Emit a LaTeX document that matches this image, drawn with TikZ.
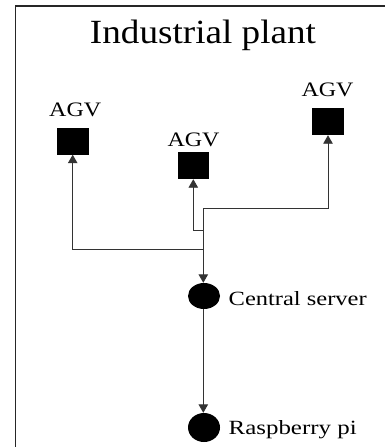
\documentclass[tikz,border=0pt]{standalone}
\usepackage{fontspec}
\setmainfont{Liberation Serif}
\usetikzlibrary{arrows.meta,shapes.geometric}
\newcommand\mylblfont{\fontsize{20}{24}\selectfont}
\begin{document}
\begin{tikzpicture}[x=1pt,y=-1pt,
  frame/.style={line width=1.2pt,draw=black!85},
  agvbox/.style={fill=black,draw=none,minimum width=32pt,minimum height=27pt,inner sep=0pt},
  dot/.style={ellipse,fill=black,draw=none,minimum width=32pt,inner sep=0pt},
  lbl/.style={inner sep=0pt,font=\mylblfont},
  conn/.style={line width=0.9pt,draw=black!80},
  arr/.style={conn,-{Triangle[width=9.5pt,length=8.5pt]}}]
\useasboundingbox (0,0) rectangle (385,447);
% frame
\coordinate (fTL) at (15.5,6);
\coordinate (fTR) at (385,6);
\coordinate (fBL) at (15.5,447);
\draw[frame] (fTR) -- (fTL) -- (fBL);
% title
\node[inner sep=0pt,anchor=base,font=\fontsize{34}{40}\selectfont] (title) at (203,43.3) {\resizebox{226pt}{23.5pt}{Industrial plant}};
% AGVs
\node[agvbox] (agvL) at (73.3,141) {};
\node[agvbox,minimum width=31pt] (agvM) at (193.5,165.5) {};
\node[agvbox] (agvR) at (328,121.5) {};
\node[lbl,anchor=base] (lL) at (75.2,116.7) {\resizebox{52pt}{13.6pt}{AGV}};
\node[lbl,anchor=base] (lM) at (193.5,146.7) {\resizebox{52pt}{13.6pt}{AGV}};
\node[lbl,anchor=base] (lR) at (327.5,96.7) {\resizebox{52pt}{13.6pt}{AGV}};
% servers
\node[dot,minimum height=26pt] (cs) at (204,296) {};
\node[dot,minimum height=29pt] (rp) at (204,427.5) {};
\node[lbl,anchor=base west] (lcs) at (228.5,305.7) {\resizebox{138pt}{14pt}{Central server}};
\node[lbl,anchor=base west] (lrp) at (228.5,434.3) {\resizebox{128pt}{14pt}{Raspberry pi}};
% connectors
\coordinate (jR) at (203.3,208);
\coordinate (jM) at (203.3,230);
\coordinate (jL) at (203.3,249);
\draw[conn] (jR) -- (jL);
\draw[arr] (jL) -- (jL |- cs.north);
\draw[arr] (jR) -| (agvR.south);
\draw[arr] (jM) -| ([xshift=-0.2pt]agvM.south);
\draw[arr] (jL) -| ([xshift=-0.6pt]agvL.south);
\draw[arr] (cs.south -| jL) -- (rp.north -| jL);
\end{tikzpicture}
\end{document}
